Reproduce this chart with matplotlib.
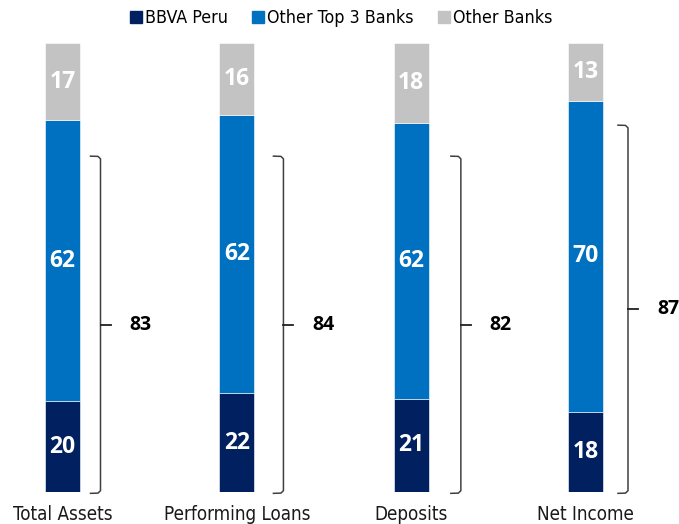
import matplotlib
matplotlib.use("Agg")
import matplotlib.pyplot as plt
import numpy as np
from matplotlib.lines import Line2D
from matplotlib import font_manager as fm

categories = ["Total Assets", "Performing Loans", "Deposits", "Net Income"]
bbva = [20, 22, 21, 18]
top3 = [62, 62, 62, 70]
others = [17, 16, 18, 13]
combined = [83, 84, 82, 87]
series_names = ["BBVA Peru", "Other Top 3 Banks", "Other Banks"]

colors = ["#002060", "#0070C0", "#C3C3C3"]
boldf = ["Open Sans", "DejaVu Sans"]

names = {f.name for f in fm.fontManager.ttflist}
cond = [f for f in fm.fontManager.ttflist if "ondensed" in f.fname or "arrow" in f.fname]
if "Liberation Sans Narrow" in names:
    narrow_kw = {"family": "Liberation Sans Narrow"}
elif cond:
    narrow_kw = {"family": cond[0].name, "stretch": cond[0].stretch}
else:
    narrow_kw = {"family": "Roboto"}

W, H = 679, 524
fig = plt.figure(figsize=(W / 100, H / 100), dpi=100)
px_x = 174.33  # px per x-unit
ax = fig.add_axes([0, (H - 492) / H, 1, 449 / H])
ax.set_xlim(-62.5 / px_x, (W - 62.5) / px_x)
ax.set_ylim(0, 100)
ax.axis("off")

x = np.arange(len(categories))
data = np.array([bbva, top3, others], dtype=float)
totals = data.sum(axis=0)
shares = data / totals * 100
bw = 35 / px_x
bottom = np.zeros(len(categories))
for i in range(3):
    ax.bar(x, shares[i], bw, bottom=bottom, color=colors[i], label=series_names[i],
           edgecolor="white", linewidth=0.4)
    for j in range(len(categories)):
        ax.text(x[j], bottom[j] + shares[i][j] / 2, f"{int(data[i][j])}", ha="center",
                va="center", color="white", fontsize=16.5, fontweight="bold", family=boldf)
    bottom += shares[i]

# category labels
for j, c in enumerate(categories):
    ax.text(x[j], -2.9, c, ha="center", va="top", fontsize=13.5, color="#1a1a1a",
            **narrow_kw)

# brackets
bracket_off_px = [38, 46.6, 49.7, 42.5]
bracket_top = [74.8, 74.8, 74.8, 81.7]
bracket_bot = -0.3
for j in range(len(categories)):
    xb = x[j] + bracket_off_px[j] / px_x
    t = 10 / px_x
    top = bracket_top[j]
    mid = (top + bracket_bot) / 2
    ax.plot([xb - t, xb - 0.25 * t, xb, xb, xb - 0.25 * t, xb - t],
            [top, top - 0.05, top - 0.6, bracket_bot + 0.6, bracket_bot + 0.05, bracket_bot],
            color="#404040", lw=1.1, solid_joinstyle="round", clip_on=False)
    ax.plot([xb, xb + t], [mid, mid], color="#202020", lw=1.3, clip_on=False)
    ax.text(xb + 40 / px_x, mid, f"{combined[j]}", ha="center", va="center",
            fontsize=14, fontweight="bold", family=boldf, color="black")

handles = [Line2D([0], [0], marker="s", linestyle="none", markersize=8.5,
                  markerfacecolor=colors[i], markeredgecolor=colors[i]) for i in range(3)]
fig.legend(handles, series_names, loc="center", bbox_to_anchor=(0.502, 1 - 18 / H), ncol=3,
           frameon=False, prop=fm.FontProperties(size=12.8, **narrow_kw), handlelength=0.7,
           handletextpad=0.15, columnspacing=1.35)

fig.savefig("out.png", dpi=100)
